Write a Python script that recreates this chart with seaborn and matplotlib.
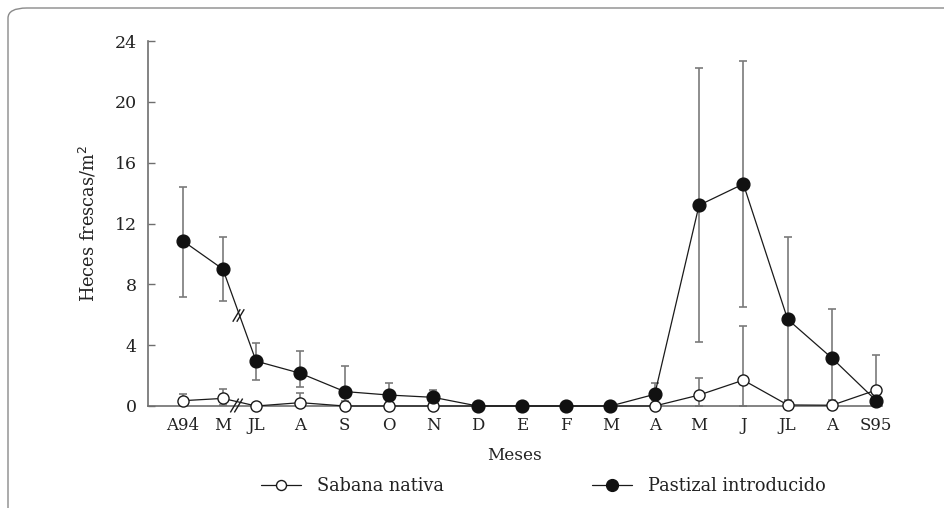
import numpy as np
import pandas as pd
import matplotlib
matplotlib.use("Agg")
import matplotlib.pyplot as plt
import seaborn as sns
from matplotlib.patches import FancyBboxPatch
from matplotlib.lines import Line2D

# Monthly fresh dung counts (heces frescas / m2), Apr 1994 - Sep 1995
meses = ["A94", "M", "JL", "A", "S", "O", "N", "D", "E", "F",
         "M", "A", "M", "J", "JL", "A", "S95"]

sabana = [0.35, 0.50, 0.0, 0.22, 0.0, 0.0, 0.0, 0.0, 0.0, 0.0,
          0.0, 0.0, 0.72, 1.70, 0.07, 0.05, 1.05]
sabana_err_lo = [0.30, 0.45, 0.0, 0.22, 0.0, 0.0, 0.0, 0.0, 0.0, 0.0,
                 0.0, 0.0, 0.72, 1.70, 0.07, 0.05, 0.70]
sabana_err_hi = [0.45, 0.60, 0.0, 0.65, 0.0, 0.0, 0.0, 0.0, 0.0, 0.0,
                 0.0, 0.0, 1.10, 3.55, 0.15, 0.10, 2.30]

pastizal = [10.85, 9.00, 2.95, 2.15, 0.95, 0.72, 0.57, 0.0, 0.0, 0.0,
            0.0, 0.77, 13.20, 14.60, 5.70, 3.15, 0.35]
pastizal_err_lo = [3.65, 2.10, 1.25, 0.90, 0.60, 0.40, 0.30, 0.0, 0.15, 0.0,
                   0.0, 0.40, 9.00, 8.10, 5.30, 2.75, 0.0]
pastizal_err_hi = [3.55, 2.10, 1.20, 1.45, 1.70, 0.80, 0.45, 0.0, 0.15, 0.0,
                   0.0, 0.75, 9.00, 8.10, 5.40, 3.25, 0.0]

y_ticks = [0, 4, 8, 12, 16, 20, 24]

# positions along the time axis; the first two months sit before an axis break
x_pos = np.arange(len(meses), dtype=float)
x_pos[:2] = [0.35, 1.25]

sns.set_theme(style="ticks")
plt.rcParams["font.family"] = ["DejaVu Serif"]
plt.rcParams["text.color"] = "#222222"
plt.rcParams["axes.labelcolor"] = "#222222"

fig = plt.figure(figsize=(9.44, 5.08), dpi=100)
ax = fig.add_axes([148 / 944, 1 - 406 / 508, (882 - 148) / 944, (406 - 41) / 508])

# rounded frame around the figure (top and left edges visible)
frame = FancyBboxPatch((8 / 944, -0.2), 1.2, 1 - 8 / 508 + 0.2,
                       boxstyle="round,pad=0,rounding_size=0.02",
                       transform=fig.transFigure, fill=False,
                       edgecolor="#8a8a8a", linewidth=1.0, clip_on=True)
fig.patches.append(frame)

df_sab = pd.DataFrame({"x": x_pos, "y": sabana})
df_pas = pd.DataFrame({"x": x_pos, "y": pastizal})

err_kw = dict(fmt="none", ecolor="#7a7a7a", elinewidth=1.2,
              capsize=3.2, capthick=1.2)
ax.errorbar(x_pos, sabana, yerr=[sabana_err_lo, sabana_err_hi], zorder=1, **err_kw)
ax.errorbar(x_pos, pastizal, yerr=[pastizal_err_lo, pastizal_err_hi], zorder=1, **err_kw)

sns.lineplot(data=df_sab, x="x", y="y", ax=ax, color="#1a1a1a", linewidth=0.9,
             marker="o", markersize=8, markerfacecolor="white",
             markeredgecolor="#1a1a1a", markeredgewidth=1.0,
             clip_on=False, zorder=3)
sns.lineplot(data=df_pas, x="x", y="y", ax=ax, color="#1a1a1a", linewidth=0.9,
             marker="o", markersize=9.2, markerfacecolor="#111111",
             markeredgecolor="#111111", markeredgewidth=1.0,
             clip_on=False, zorder=4)

# break marks on the black line and on the time axis
slash = [(-0.6, -1.0), (0.6, 1.0)]
xm = (x_pos[1] + x_pos[2]) / 2
ym = (pastizal[1] + pastizal[2]) / 2
for dx in (-0.045, 0.045):
    ax.plot([xm - 0.04 + dx], [ym], marker=slash, markersize=9, color="#1a1a1a",
            markeredgewidth=1.0, linestyle="none", zorder=5, clip_on=False)
    ax.plot([xm - 0.08 + dx], [0.05], marker=slash, markersize=10, color="#1a1a1a",
            markeredgewidth=1.0, linestyle="none", zorder=5, clip_on=False)

ax.set_xlim(-0.44, 16.13)
ax.set_ylim(0, 24)
ax.set_xticks(x_pos)
ax.set_xticklabels(meses)
ax.set_yticks(y_ticks)
ax.tick_params(axis="x", length=0, pad=8, labelsize=12, labelcolor="#222222")
ax.tick_params(axis="y", direction="in", length=5, width=1.0, color="#6e6e6e",
               pad=8, labelsize=12.5, labelcolor="#222222")
for side in ("left", "bottom"):
    ax.spines[side].set_color("#6e6e6e")
    ax.spines[side].set_linewidth(1.2)
sns.despine(ax=ax)

ax.set_xlabel("Meses", fontsize=12.2, labelpad=9)
ax.set_ylabel("Heces frescas/m$^2$", fontsize=12.8, labelpad=12)

handles = [
    Line2D([], [], color="#1a1a1a", linewidth=0.9, marker="o", markersize=7.2,
           markerfacecolor="white", markeredgecolor="#1a1a1a"),
    Line2D([], [], color="#1a1a1a", linewidth=0.9, marker="o", markersize=8.5,
           markerfacecolor="#111111", markeredgecolor="#111111"),
]
fig.legend(handles, ["Sabana nativa", "Pastizal introducido"], ncol=2,
           loc="center", bbox_to_anchor=(543.5 / 944, 1 - 486 / 508),
           frameon=False, fontsize=12.8, handlelength=2.25, handletextpad=0.9,
           columnspacing=8.3)

fig.savefig("out.png", dpi=100)
